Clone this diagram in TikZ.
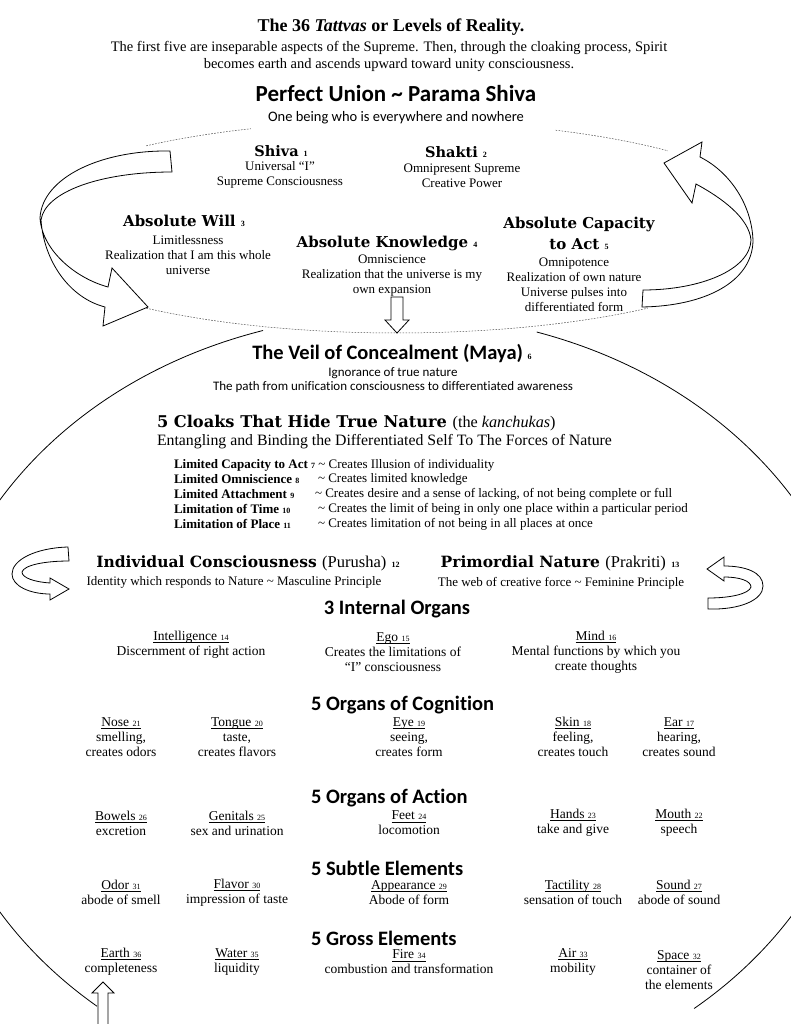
\documentclass[tikz,border=0pt]{standalone}
\usepackage{fontspec}
\setmainfont{Liberation Serif}
\newfontfamily\calfont[Ligatures=NoCommon]{Carlito}
\newfontfamily\cambfont{DejaVu Serif}
\newcommand\fs[2]{\fontsize{#1}{#2}\selectfont}
\newcommand\nm[1]{\ {\rmfamily\fs{8}{8}#1}}
\newsavebox\ulbox
\newcommand\ulx[1]{\sbox\ulbox{#1}\rlap{\rule[-2.2pt]{\wd\ulbox}{0.5pt}}\usebox\ulbox}
\tikzset{
  every node/.style={inner sep=0pt, outer sep=0pt},
  ttlS/.style={font={\bfseries\fs{18}{20}}},
  subS/.style={font={\fs{14.5}{17}}, align=center},
  hsS/.style={font={\calfont\bfseries\fs{20.5}{24}}},
  hsbS/.style={font={\calfont\fs{14.5}{14}}, align=center},
  hcS/.style={font={\cambfont\bfseries\fs{15}{20}}, align=center},
  bdS/.style={font={\fs{13}{15}}, align=center},
  itS/.style={font={\fs{13.5}{15}}, align=center},
  clkS/.style={font={\bfseries\fs{13}{15}}, anchor=west},
  cdescS/.style={font={\fs{13}{15}}, anchor=west},
  blk/.style={draw=black, line width=0.8pt, fill=white, line join=miter},
  dsh/.style={draw=black!70, line width=0.5pt, dash pattern=on 1.6pt off 1.4pt},
  bigarc/.style={draw=black, line width=0.8pt}
}
\begin{document}
\begin{tikzpicture}[x=1pt,y=-1pt]
\useasboundingbox (0,0) rectangle (791,1024);
\fill[white] (0,0) rectangle (791,1024);
\begin{scope}
\clip (0,0) rectangle (791,1024);
% big solid ellipse arcs
\coordinate (ela) at (263,330.5);
\coordinate (elb) at (536.7,332);
\draw[bigarc] (ela) arc[start angle=-106.7, end angle=-230, x radius=467, y radius=392];
\draw[bigarc] (elb) arc[start angle=-72.6, end angle=50.5, x radius=467, y radius=392];
% dashed ellipse pieces
\coordinate (dsa) at (146.3,145.8);
\coordinate (dsb) at (555.6,130.2);
\coordinate (dsc) at (146.3,308.2);
\draw[dsh] (dsa) arc[start angle=-130, end angle=-112, x radius=390, y radius=106];
\draw[dsh] (dsb) arc[start angle=-66, end angle=-46, x radius=390, y radius=106];
\draw[dsh] (dsc) arc[start angle=130, end angle=50, x radius=390, y radius=106];
% up arrow at the bottom
\draw[blk] (98,1030) -- (98,993) -- (92,993) -- (103,982) -- (114,993) -- (108,993) -- (108,1030);
\end{scope}
% big left curved arrow
\draw[blk] (170,151) .. controls (100,150) and (42,178) .. (40,218)
  .. controls (42,250) and (75,278) .. (108,287)
  -- (112,268) -- (148,307) -- (103,326) -- (105,307)
  .. controls (70,298) and (44,262) .. (41,220)
  .. controls (45,192) and (100,172) .. (172,172) -- cycle;
% big right curved arrow
\draw[blk] (642,307) .. controls (705,306) and (752,282) .. (753,241)
  .. controls (752,205) and (730,172) .. (700,157)
  -- (702,142) -- (664,163) -- (692,203) -- (696,184)
  .. controls (722,198) and (749,218) .. (751,240)
  .. controls (750,270) and (700,290) .. (643,290) -- cycle;
% small left arrow
\draw[blk] (68,547) .. controls (35,548) and (12,560) .. (12,574)
  .. controls (12,586) and (30,594) .. (50,594)
  -- (50,600) -- (69,589) -- (50,578) -- (50,583)
  .. controls (35,582) and (22,578) .. (22,572)
  .. controls (24,565) and (45,561) .. (69,561) -- cycle;
% small right arrow
\draw[blk] (708,609) .. controls (740,610) and (763,600) .. (763,586)
  .. controls (763,572) and (745,566) .. (724,566)
  -- (724,557) -- (707,569) -- (724,581) -- (724,577)
  .. controls (740,577) and (751,581) .. (751,587)
  .. controls (749,594) and (730,598) .. (708,598) -- cycle;
% down arrow
\draw[blk] (391,297) -- (403,297) -- (403,320) -- (409,320) -- (397,333) -- (385,320) -- (391,320) -- cycle;

% ---------- texts ----------
\node[ttlS] (title) at (391,27) {The 36 \textit{Tattvas} or Levels of Reality.};
\node[subS] (intro) at (389,56) {The first five are inseparable aspects of the Supreme. Then, through the cloaking process, Spirit\\becomes earth and ascends upward toward unity consciousness.};
\node[hsS, font={\calfont\bfseries\fs{23}{24}}] (pu) at (396,94) {Perfect Union \textasciitilde{} Parama Shiva};
\node[hsbS] (pub) at (396,117.5) {One being who is everywhere and nowhere};

\node[hcS, font={\cambfont\bfseries\fs{14.5}{20}}] (shiva) at (281,151) {Shiva\nm{1}};
\node[bdS] (shivab) at (280,175) {Universal “I”\\Supreme Consciousness};
\node[hcS, font={\cambfont\bfseries\fs{14.5}{20}}] (shakti) at (456,152) {Shakti\nm{2}};
\node[bdS] (shaktib) at (462,176) {Omnipresent Supreme\\Creative Power};
\node[hcS] (will) at (184,221) {Absolute Will\nm{3}};
\node[bdS] (willb) at (188,255) {Limitlessness\\Realization that I am this whole\\universe};
\node[hcS] (know) at (387,243) {Absolute Knowledge\nm{4}};
\node[bdS] (knowb) at (392,276) {Omniscience\\Realization that the universe is my\\own expansion};
\node[hcS, font={\cambfont\bfseries\fs{15}{21}}] (act) at (579,233) {Absolute Capacity\\to Act\nm{5}};
\node[bdS] (actb) at (574,285) {Omnipotence\\Realization of own nature\\Universe pulses into\\differentiated form};

\node[hsS] (veil) at (392,354) {The Veil of Concealment (Maya)\nm{6}};
\node[hsbS, font={\calfont\fs{13}{14}}] (veilb) at (393,380) {Ignorance of true nature\\The path from unification consciousness to differentiated awareness};

\node[hcS, font={\cambfont\bfseries\fs{16.2}{20}}, anchor=west] (cloak) at (157,423) {5 Cloaks That Hide True Nature {\rmfamily\mdseries (the \textit{kanchukas})}};
\node[anchor=west, font={\fs{15.8}{17}}] (cloaksub) at (157,442) {Entangling and Binding the Differentiated Self To The Forces of Nature};
\node[clkS] (c1) at (174,465) {Limited Capacity to Act\nm{7}{\mdseries\ \textasciitilde{} Creates Illusion of individuality}};
\node[clkS] (c2) at (174,479) {Limited Omniscience\nm{8}};
\node[cdescS] (d2) at (318,479) {\textasciitilde{} Creates limited knowledge};
\node[clkS] (c3) at (174,494) {Limited Attachment\nm{9}};
\node[cdescS] (d3) at (315,494) {\textasciitilde{} Creates desire and a sense of lacking, of not being complete or full};
\node[clkS] (c4) at (174,509) {Limitation of Time\nm{10}};
\node[cdescS] (d4) at (318,509) {\textasciitilde{} Creates the limit of being in only one place within a particular period};
\node[clkS] (c5) at (174,524) {Limitation of Place\nm{11}};
\node[cdescS] (d5) at (318,524) {\textasciitilde{} Creates limitation of not being in all places at once};

\node[hcS, font={\cambfont\bfseries\fs{15.5}{20}}] (ind) at (248,563) {Individual Consciousness {\rmfamily\mdseries\fs{16.5}{20}(Purusha)}\nm{12}};
\node[bdS] (indb) at (234,582) {Identity which responds to Nature \textasciitilde{} Masculine Principle};
\node[hcS, font={\cambfont\bfseries\fs{15.5}{20}}] (pri) at (560,563) {Primordial Nature {\rmfamily\mdseries\fs{16.5}{20}(Prakriti)}\nm{13}};
\node[bdS] (prib) at (561,583) {The web of creative force \textasciitilde{} Feminine Principle};

\node[hsS] (inth) at (397,609) {3 Internal Organs};
\node[itS] (intel) at (191,645) {\ulx{Intelligence\nm{14}}\\Discernment of right action};
\node[itS] (ego) at (393,652) {\ulx{Ego\nm{15}}\\Creates the limitations of\\“I” consciousness};
\node[itS] (mind) at (596,652) {\ulx{Mind\nm{16}}\\Mental functions by which you\\create thoughts};

\node[hsS, anchor=west] (cogh) at (311,705) {5 Organs of Cognition};
\node[itS] (nose) at (121,737) {\ulx{Nose\nm{21}}\\smelling,\\creates odors};
\node[itS] (tongue) at (237,737) {\ulx{Tongue\nm{20}}\\taste,\\creates flavors};
\node[itS] (eye) at (409,737) {\ulx{Eye\nm{19}}\\seeing,\\creates form};
\node[itS] (skin) at (573,737) {\ulx{Skin\nm{18}}\\feeling,\\creates touch};
\node[itS] (ear) at (679,737) {\ulx{Ear\nm{17}}\\hearing,\\creates sound};

\node[hsS, anchor=west] (acth) at (311,798) {5 Organs of Action};
\node[itS] (bowels) at (121,823) {\ulx{Bowels\nm{26}}\\excretion};
\node[itS] (genitals) at (237,823) {\ulx{Genitals\nm{25}}\\sex and urination};
\node[itS] (feet) at (409,823) {\ulx{Feet\nm{24}}\\locomotion};
\node[itS] (hands) at (573,823) {\ulx{Hands\nm{23}}\\take and give};
\node[itS] (mouth) at (679,823) {\ulx{Mouth\nm{22}}\\speech};

\node[hsS, anchor=west] (subh) at (311,868) {5 Subtle Elements};
\node[itS] (odor) at (121,892.5) {\ulx{Odor\nm{31}}\\abode of smell};
\node[itS] (flavor) at (237,892.5) {\ulx{Flavor\nm{30}}\\impression of taste};
\node[itS] (appear) at (409,892.5) {\ulx{Appearance\nm{29}}\\Abode of form};
\node[itS] (tact) at (573,892.5) {\ulx{Tactility\nm{28}}\\sensation of touch};
\node[itS] (sound) at (679,892.5) {\ulx{Sound\nm{27}}\\abode of sound};

\node[hsS, anchor=west] (grossh) at (311,938) {5 Gross Elements};
\node[itS] (earth) at (121,962) {\ulx{Earth\nm{36}}\\completeness};
\node[itS] (water) at (237,962) {\ulx{Water\nm{35}}\\liquidity};
\node[itS] (fire) at (409,962) {\ulx{Fire\nm{34}}\\combustion and transformation};
\node[itS] (air) at (573,962) {\ulx{Air\nm{33}}\\mobility};
\node[itS] (space) at (679,970) {\ulx{Space\nm{32}}\\container of\\the elements};
\end{tikzpicture}
\end{document}
